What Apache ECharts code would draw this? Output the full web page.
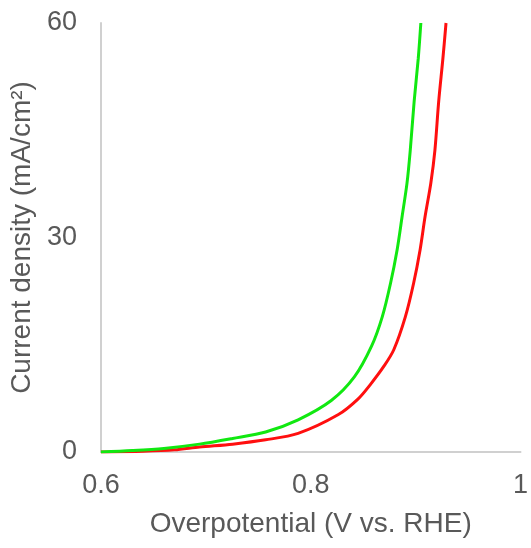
<!DOCTYPE html>
<html lang="en">
<head>
    <meta charset="UTF-8">
    <title>Current density</title>
    <style>
        * { padding: 0; margin: 0; }
        html, body { width: 100%; height: 100%; background: #fff; }
        #main { width: 531px; height: 548px; }
    </style>
</head>
<body>
    <div id="main"></div>
    <script src="https://cdn.jsdelivr.net/npm/echarts@6/dist/echarts.min.js"></script>
    <script>
        // overpotential (V) and current density (mA/cm2)
        var greenX = [0.600, 0.630, 0.660, 0.694, 0.7255, 0.757, 0.788, 0.8196, 0.8416, 0.858, 0.8682, 0.8761, 0.8824, 0.8871, 0.8918, 0.8949, 0.8986, 0.9025, 0.905];
        var greenY = [0.0, 0.2, 0.5, 1.1, 1.9, 2.8, 4.5, 7.2, 10.5, 14.8, 18.9, 23.6, 28.3, 32.9, 37.6, 42.2, 49, 55, 60];

        var redX = [0.600, 0.640, 0.670, 0.694, 0.7255, 0.757, 0.788, 0.826, 0.845, 0.8572, 0.8698, 0.8792, 0.8902, 0.8981, 0.9043, 0.909, 0.9145, 0.9184, 0.922, 0.926, 0.929];
        var redY = [0.0, 0.1, 0.3, 0.7, 1.1, 1.7, 2.6, 5.2, 7.4, 9.5, 12.0, 14.3, 18.9, 23.6, 28.3, 32.9, 37.6, 42.2, 49, 55, 60];

        function pairs(xs, ys) {
            return xs.map(function (x, i) { return [x, ys[i]]; });
        }

        var textColor = '#595959';
        var font = 'Liberation Sans, Arial, sans-serif';
        var myChart = echarts.init(document.getElementById('main'));
        var option = {
            animation: false,
            backgroundColor: '#fff',
            grid: { left: 100, right: 6, top: 23, bottom: 96, containLabel: false },
            xAxis: {
                type: 'value',
                min: 0.6,
                max: 1,
                interval: 0.2,
                name: 'Overpotential (V vs. RHE)',
                nameLocation: 'middle',
                nameGap: 58,
                nameTextStyle: { color: textColor, fontSize: 28, fontFamily: font },
                axisLine: { show: true, lineStyle: { color: '#d0d0d0', width: 2 } },
                axisTick: { show: false },
                splitLine: { show: false },
                axisLabel: { color: textColor, fontSize: 27, margin: 20, fontFamily: font }
            },
            yAxis: {
                type: 'value',
                min: 0,
                max: 60,
                interval: 30,
                name: 'Current density (mA/cm²)',
                nameLocation: 'middle',
                nameGap: 62,
                nameTextStyle: { color: textColor, fontSize: 28, fontFamily: font },
                axisLine: { show: true, lineStyle: { color: '#d0d0d0', width: 2 } },
                axisTick: { show: false },
                splitLine: { show: false },
                axisLabel: { color: textColor, fontSize: 27, margin: 24, fontFamily: font }
            },
            series: [{
                name: 'red',
                type: 'line',
                smooth: 0.3,
                showSymbol: false,
                lineStyle: { color: '#ff0f0f', width: 3 },
                data: pairs(redX, redY)
            }, {
                name: 'green',
                type: 'line',
                smooth: 0.3,
                showSymbol: false,
                lineStyle: { color: '#11e811', width: 3 },
                data: pairs(greenX, greenY)
            }]
        };
        myChart.setOption(option);
    </script>
</body>
</html>
